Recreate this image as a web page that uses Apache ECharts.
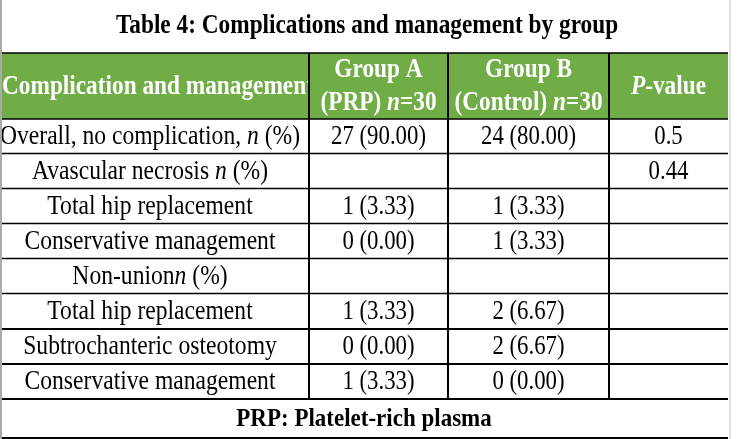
<!DOCTYPE html>
<html>
<head>
<meta charset="UTF-8">
<title>Table 4: Complications and management by group</title>
<script src="https://cdn.jsdelivr.net/npm/echarts@6/dist/echarts.min.js"></script>
<style>html,body{margin:0;padding:0;background:#fff;}</style>
</head>
<body>
<div id="main" style="width:739px;height:439px;"></div>
<script type="text/javascript">
// table content
var title = 'Table 4: Complications and management by group';
var headers = ['Complication and management', 'Group A\n(PRP) *n*=30', 'Group B\n(Control) *n*=30', '*P*-value'];
var rowLabels = [
    'Overall, no complication, *n* (%)',
    'Avascular necrosis *n* (%)',
    'Total hip replacement',
    'Conservative management',
    'Non-union*n* (%)',
    'Total hip replacement',
    'Subtrochanteric osteotomy',
    'Conservative management'
];
var countA = [27, null, 1, 0, null, 1, 0, 1];
var pctA   = [90.00, null, 3.33, 0.00, null, 3.33, 0.00, 3.33];
var countB = [24, null, 1, 1, null, 2, 2, 0];
var pctB   = [80.00, null, 3.33, 3.33, null, 6.67, 6.67, 0.00];
var pValues = ['0.5', '0.44', '', '', '', '', '', ''];
var footnote = 'PRP: Platelet-rich plasma';

// layout, in pixels of the 739x439 frame
var colEdges = [2, 309, 448, 609, 728];
var col0Center = 150;
var titleBand = [0, 53];
var headerBand = [53, 119];
var rowEdges = [119, 153.5, 188.5, 223.5, 258.5, 293.5, 329, 364, 399];
var footBand = [399, 438];
var green = '#70AD47';
var serif = '"Liberation Serif", "Times New Roman", serif';
var labelSize = 23.6, numSize = 22.8, headSize = 23.3;
// the source type is taller than plain Times
var stretch = 1.2;

function fmt(n, p) {
    return n == null ? '' : n + ' (' + p.toFixed(2) + ')';
}

// '*x*' marks italic parts
function toRich(s) {
    return s.split('\n').map(function (line) {
        return line.split('*').map(function (seg, i) {
            return seg ? '{' + (i % 2 ? 'i' : 'r') + '|' + seg + '}' : '';
        }).join('');
    }).join('\n');
}

function richStyles(size, bold, color) {
    var w = bold ? 'bold' : 'normal';
    return {
        r: {fontFamily: serif, fontSize: size, fontWeight: w, fill: color, lineHeight: 27.5},
        i: {fontFamily: serif, fontSize: size, fontWeight: w, fontStyle: 'italic', fill: color, lineHeight: 27.5}
    };
}

// cells are drawn in order, so the Group A header box hides the overflow of the first header
var cells = [];
cells.push({x0: 0, y0: titleBand[0], x1: 739, y1: titleBand[1], tx: 367, ty: 26, text: title,
    bold: true, size: 23.3, plain: true, sy: 1.14, color: '#000'});
headers.forEach(function (h, c) {
    var cell = {x0: colEdges[c], y0: headerBand[0], x1: colEdges[c + 1], y1: headerBand[1],
        tx: (colEdges[c] + colEdges[c + 1]) / 2, text: h, bold: true, size: headSize, fill: green, color: '#fff'};
    if (c === 0) { cell.tx = colEdges[0]; cell.align = 'left'; cell.plain = true; }
    cells.push(cell);
});
rowLabels.forEach(function (label, r) {
    var vals = [label, fmt(countA[r], pctA[r]), fmt(countB[r], pctB[r]), pValues[r]];
    vals.forEach(function (v, c) {
        cells.push({x0: colEdges[c], y0: rowEdges[r], x1: colEdges[c + 1], y1: rowEdges[r + 1],
            tx: c === 0 ? col0Center : (colEdges[c] + colEdges[c + 1]) / 2, text: v,
            bold: false, size: c === 0 ? labelSize : numSize, color: '#000'});
    });
});
cells.push({x0: colEdges[0], y0: footBand[0], x1: colEdges[4], y1: footBand[1], tx: 364, ty: 419.5, text: footnote,
    bold: true, size: 23, plain: true, sy: 1.14, color: '#000'});

// rule lines: [x0, y0, x1, y1, width]
var lines = [];
lines.push([colEdges[0], headerBand[0], colEdges[4], headerBand[0], 1.6]);
rowEdges.forEach(function (y, i) {
    lines.push([colEdges[0], y, colEdges[4], y, i >= 6 ? 2 : 1.5]);
});
lines.push([colEdges[0], footBand[1], colEdges[4], footBand[1], 2]);
[1, 2, 3].forEach(function (c) {
    lines.push([colEdges[c], headerBand[0], colEdges[c], rowEdges[rowEdges.length - 1], 2]);
});
// page edges
var edges = [[1, 0, 1, 439, 2, '#aaaaaa'], [730, 0, 730, 439, 1, '#c8c8c8']];

function renderCell(params, api) {
    var c = cells[params.dataIndex];
    var p0 = api.coord([c.x0, c.y0]);
    var p1 = api.coord([c.x1, c.y1]);
    var children = [];
    if (c.fill) {
        children.push({type: 'rect', shape: {x: p0[0], y: p0[1], width: p1[0] - p0[0], height: p1[1] - p0[1]},
            style: {fill: c.fill}});
    }
    if (c.text) {
        var t = api.coord([c.tx, c.ty != null ? c.ty : (c.y0 + c.y1) / 2 + 0.5]);
        var style = {x: 0, y: 0, align: c.align || 'center', verticalAlign: 'middle',
            fill: c.color, fontFamily: serif, fontSize: c.size, fontWeight: c.bold ? 'bold' : 'normal'};
        if (c.plain) {
            style.text = c.text;
        } else {
            style.text = toRich(c.text);
            style.rich = richStyles(c.size, c.bold, c.color);
        }
        children.push({type: 'text', x: t[0], y: t[1], scaleX: 1, scaleY: c.sy || stretch, style: style});
    }
    return {type: 'group', children: children};
}

function renderLine(params, api) {
    var a = api.coord([api.value(0), api.value(1)]);
    var b = api.coord([api.value(2), api.value(3)]);
    var color = params.seriesName === 'edges' ? edges[params.dataIndex][5] : '#000';
    return {type: 'line', shape: {x1: a[0], y1: a[1], x2: b[0], y2: b[1]},
        style: {stroke: color, lineWidth: api.value(4)}};
}

var myChart = echarts.init(document.getElementById('main'));
var option = {
    backgroundColor: '#fff',
    animation: false,
    grid: {left: 0, right: 0, top: 0, bottom: 0},
    xAxis: {type: 'value', min: 0, max: 739, show: false},
    yAxis: {type: 'value', min: 0, max: 439, inverse: true, show: false},
    series: [
        {type: 'custom', name: 'cells', renderItem: renderCell, clip: false,
            encode: {x: [0, 2], y: [1, 3]},
            data: cells.map(function (c) { return [c.x0, c.y0, c.x1, c.y1]; })},
        {type: 'custom', name: 'rules', renderItem: renderLine, clip: false,
            encode: {x: [0, 2], y: [1, 3]}, data: lines},
        {type: 'custom', name: 'edges', renderItem: renderLine, clip: false,
            encode: {x: [0, 2], y: [1, 3]},
            data: edges.map(function (e) { return e.slice(0, 5); })}
    ]
};
myChart.setOption(option);
</script>
</body>
</html>
